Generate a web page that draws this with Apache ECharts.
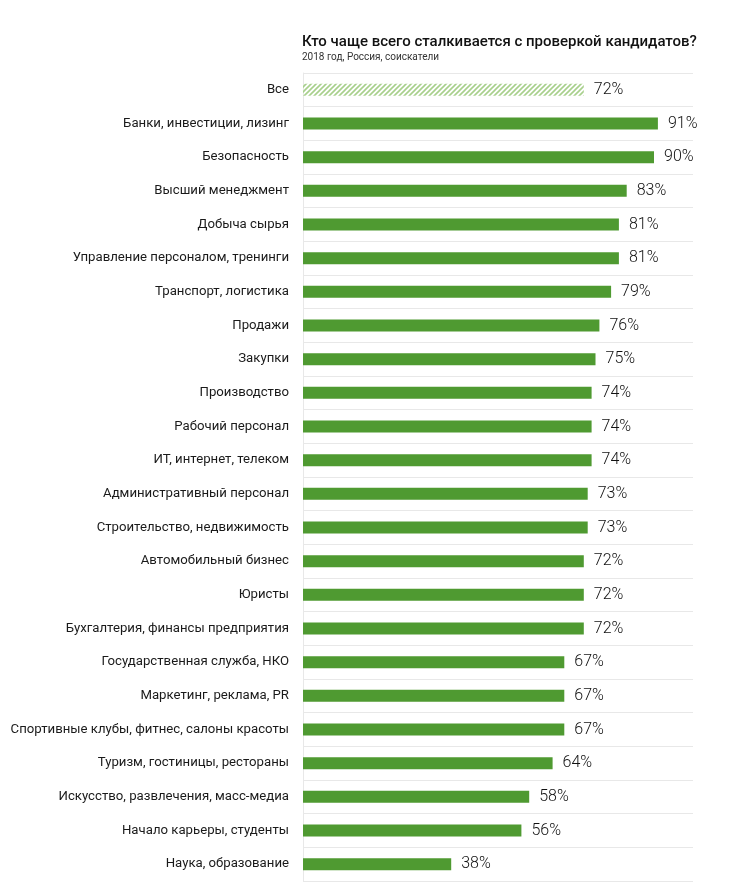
<!DOCTYPE html>
<html lang="ru">
<head>
<meta charset="UTF-8">
<title>Кто чаще всего сталкивается с проверкой кандидатов?</title>
<style>
  html, body { margin: 0; padding: 0; background: #fff; }
  #chart { width: 733px; height: 887px; }
</style>
</head>
<body>
<div id="chart"></div>
<script src="https://cdn.jsdelivr.net/npm/echarts@6/dist/echarts.min.js"></script>
<script>
var categories = [
  'Все',
  'Банки, инвестиции, лизинг',
  'Безопасность',
  'Высший менеджмент',
  'Добыча сырья',
  'Управление персоналом, тренинги',
  'Транспорт, логистика',
  'Продажи',
  'Закупки',
  'Производство',
  'Рабочий персонал',
  'ИТ, интернет, телеком',
  'Административный персонал',
  'Строительство, недвижимость',
  'Автомобильный бизнес',
  'Юристы',
  'Бухгалтерия, финансы предприятия',
  'Государственная служба, НКО',
  'Маркетинг, реклама, PR',
  'Спортивные клубы, фитнес, салоны красоты',
  'Туризм, гостиницы, рестораны',
  'Искусство, развлечения, масс-медиа',
  'Начало карьеры, студенты',
  'Наука, образование'
];
var values = [72, 91, 90, 83, 81, 81, 79, 76, 75, 74, 74, 74, 73, 73, 72, 72, 72, 67, 67, 67, 64, 58, 56, 38];

// штриховка для строки "Все"
function makeHatch() {
  var c = document.createElement('canvas');
  c.width = 5; c.height = 5;
  var ctx = c.getContext('2d');
  ctx.strokeStyle = '#a8d08c';
  ctx.lineWidth = 1.6;
  ctx.beginPath();
  ctx.moveTo(-1, 6); ctx.lineTo(6, -1);
  ctx.moveTo(-1, 1); ctx.lineTo(1, -1);
  ctx.moveTo(4, 6); ctx.lineTo(6, 4);
  ctx.stroke();
  return c;
}
var hatch = makeHatch();

var barData = values.map(function (v, i) {
  if (i === 0) {
    return { value: v, itemStyle: { color: { image: hatch, repeat: 'repeat' } } };
  }
  return v;
});

var chart = echarts.init(document.getElementById('chart'));
chart.setOption({
  animation: false,
  textStyle: { fontFamily: 'Roboto, "Noto Sans", sans-serif' },
  title: {
    text: 'Кто чаще всего сталкивается с проверкой кандидатов?',
    subtext: '2018 год, Россия, соискатели',
    left: 297,
    top: 30,
    itemGap: 2,
    textStyle: { fontSize: 15, fontWeight: 500, color: '#111' },
    subtextStyle: { fontSize: 10, color: '#333' }
  },
  grid: { left: 303, right: 40, top: 73, bottom: 6, containLabel: false },
  xAxis: {
    type: 'value',
    min: 0,
    max: 100,
    show: false
  },
  yAxis: {
    type: 'category',
    inverse: true,
    data: categories,
    axisTick: { show: false },
    axisLine: { show: true, lineStyle: { color: '#e8e8e8', width: 1 } },
    splitLine: { show: true, lineStyle: { color: '#e8e8e8', width: 1 } },
    axisLabel: { margin: 14, fontSize: 13.2, color: '#1a1a1a' }
  },
  series: [{
    type: 'bar',
    data: barData,
    barWidth: 12,
    itemStyle: { color: '#4f9a31' },
    label: {
      show: true,
      position: 'right',
      distance: 10,
      fontSize: 16,
      fontWeight: 300,
      color: '#111',
      formatter: '{c}%'
    }
  }]
});
</script>
</body>
</html>
